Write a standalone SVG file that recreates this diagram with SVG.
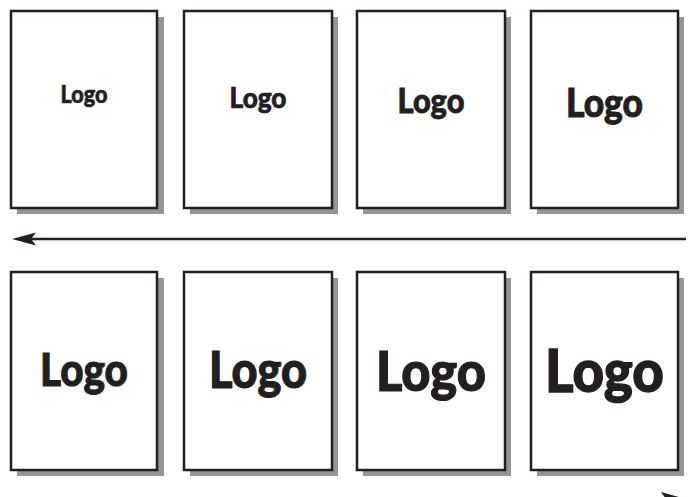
<svg xmlns="http://www.w3.org/2000/svg" width="688" height="497" viewBox="0 0 688 497">
<style>
.sh{fill:#939598}
.bx{fill:#fff;stroke:#231f20;stroke-width:2.5}
.t{font-family:Lato,"Liberation Sans",sans-serif;font-weight:900;fill:#231f20;stroke:#231f20;text-anchor:middle}
.ln{stroke:#231f20;stroke-width:2.5;fill:none}
.ah{fill:#231f20}
</style>
<g id="node1"><rect class="sh" x="17" y="17" width="147" height="197"/><rect class="bx" x="11" y="11" width="146" height="197"/><text class="t" x="84" y="103" font-size="24" stroke-width="0.6" textLength="47" lengthAdjust="spacingAndGlyphs">Logo</text></g>
<g id="node2"><rect class="sh" x="190" y="17" width="148" height="197"/><rect class="bx" x="184" y="11" width="148" height="197"/><text class="t" x="258" y="108" font-size="29" stroke-width="0.7" textLength="57" lengthAdjust="spacingAndGlyphs">Logo</text></g>
<g id="node3"><rect class="sh" x="363" y="17" width="148" height="197"/><rect class="bx" x="357" y="11" width="148" height="197"/><text class="t" x="431" y="113" font-size="35" stroke-width="0.8" textLength="67" lengthAdjust="spacingAndGlyphs">Logo</text></g>
<g id="node4"><rect class="sh" x="537" y="17" width="147" height="197"/><rect class="bx" x="531" y="11" width="147" height="197"/><text class="t" x="604.5" y="117" font-size="40" stroke-width="0.9" textLength="77" lengthAdjust="spacingAndGlyphs">Logo</text></g>
<g id="node5"><rect class="sh" x="17" y="278" width="147" height="198"/><rect class="bx" x="11" y="272" width="146" height="198"/><text class="t" x="84" y="386" font-size="46" stroke-width="1" textLength="88" lengthAdjust="spacingAndGlyphs">Logo</text></g>
<g id="node6"><rect class="sh" x="190" y="278" width="148" height="198"/><rect class="bx" x="184" y="272" width="148" height="198"/><text class="t" x="258" y="388" font-size="51" stroke-width="1.1" textLength="98" lengthAdjust="spacingAndGlyphs">Logo</text></g>
<g id="node7"><rect class="sh" x="363" y="278" width="148" height="198"/><rect class="bx" x="357" y="272" width="148" height="198"/><text class="t" x="431" y="391" font-size="56" stroke-width="1.2" textLength="110" lengthAdjust="spacingAndGlyphs">Logo</text></g>
<g id="node8"><rect class="sh" x="537" y="278" width="147" height="198"/><rect class="bx" x="531" y="272" width="147" height="198"/><text class="t" x="604.5" y="392" font-size="59" stroke-width="1.3" textLength="119" lengthAdjust="spacingAndGlyphs">Logo</text></g>
<g id="connectors">
<line class="ln" x1="30" y1="239" x2="686" y2="239"/>
<polygon class="ah" points="12,239 36,232.5 31,239 36,245.5"/>
<polygon class="ah" points="661,492 686,499 661,506 666,499"/>
</g>
</svg>
